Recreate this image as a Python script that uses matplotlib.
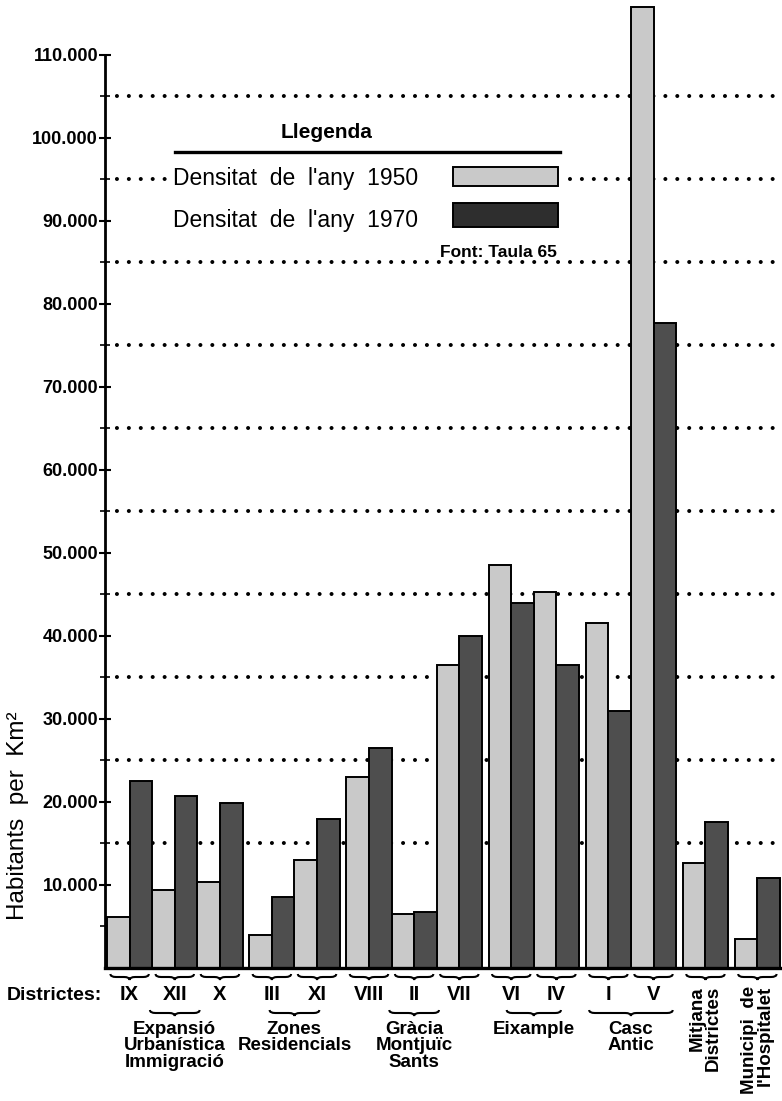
import numpy as np
import matplotlib
matplotlib.use("Agg")
import matplotlib.pyplot as plt
from matplotlib.path import Path
from matplotlib.patches import PathPatch, Rectangle
import matplotlib.transforms as mtransforms

plt.rcParams['font.family'] = ['Liberation Sans', 'DejaVu Sans']

# densitat de poblacio per districte (habitants per km2)
districtes = ['IX', 'XII', 'X', 'III', 'XI', 'VIII', 'II', 'VII',
              'VI', 'IV', 'I', 'V', '', '']
dens_1950 = [6100, 9400, 10400, 4000, 13000, 23000, 6500, 36500,
             48600, 45300, 41600, 115700, 12600, 3500]
dens_1970 = [22500, 20700, 19900, 8600, 18000, 26500, 6700, 40000,
             44000, 36500, 31000, 77700, 17600, 10800]

grups = ['Expansió\nUrbanística\nImmigració', 'Zones\nResidencials',
         'Gràcia\nMontjuïc\nSants', 'Eixample', 'Casc\nAntic',
         'Mitjana\nDistrictes', "Municipi  de\nl'Hospitalet"]
mida_grups = [3, 2, 3, 2, 2, 1, 1]

W, H = 782, 1101
GAP = 0.3

def fx(x):
    return x / W

def fy(y):
    return 1 - y / H

# posicions de les parelles de barres
pos = []
centres_grup = []
x = 0.0
for n in mida_grups:
    ini = x
    for k in range(n):
        pos.append(x)
        x += 2
    centres_grup.append((ini + x) / 2)
    x += GAP
pos = np.array(pos)
xmax = x - GAP

fig = plt.figure(figsize=(W / 100, H / 100), dpi=100)
ax = fig.add_axes([fx(105), 133 / H, (W - 105) / W, 968 / H])
ax.set_xlim(-0.09, xmax + 0.09)
ax.set_ylim(0, 116600)

light = '#c9c9c9'
dark = '#4e4e4e'
ax.bar(pos, dens_1950, 1.0, align='edge', color=light, edgecolor='black',
       linewidth=1.4, zorder=2)
ax.bar(pos + 1, dens_1970, 1.0, align='edge', color=dark, edgecolor='black',
       linewidth=1.4, zorder=2)

# linies de punts
for yv in np.arange(15000, 110000, 10000):
    ax.axhline(yv, color='black', linewidth=2.9, linestyle=(0, (0.01, 2.95)),
               dash_capstyle='round', zorder=1)

for s in ['top', 'right']:
    ax.spines[s].set_visible(False)
ax.spines['left'].set_linewidth(2)
ax.spines['bottom'].set_linewidth(2.4)
ax.spines['left'].set_bounds(0, 110000)

ax.set_yticks(np.arange(10000, 110001, 10000))
ax.set_yticks(np.arange(5000, 110000, 10000), minor=True)
ax.set_yticklabels([f'{v // 1000}.000' for v in range(10000, 110001, 10000)],
                   fontsize=13, fontweight='bold')
ax.tick_params(axis='y', which='major', direction='inout', length=8, width=1.5, pad=1)
ax.tick_params(axis='y', which='minor', direction='inout', length=7, width=1.2)
ax.set_xticks([])

fig.text(fx(18), fy(816), 'Habitants  per  Km²', rotation=90, fontsize=17.5,
         ha='center', va='center')

# llegenda
ax.add_patch(Rectangle((fx(168), fy(245)), fx(394), 85 / H, transform=fig.transFigure,
                       facecolor='white', edgecolor='none', zorder=1.5))
fig.text(fx(327), fy(133), 'Llegenda', fontsize=15, fontweight='bold',
         ha='center', va='center')
fig.add_artist(plt.Line2D([fx(175), fx(560)], [fy(152), fy(152)], color='black',
                          linewidth=2.4))
fig.text(fx(173), fy(185), "Densitat  de  l'any  1950", fontsize=16.5, ha='left',
         va='baseline')
fig.text(fx(173), fy(227), "Densitat  de  l'any  1970", fontsize=16.5, ha='left',
         va='baseline')
fig.add_artist(Rectangle((fx(453), fy(186)), fx(105), 19 / H, transform=fig.transFigure,
                         facecolor=light, edgecolor='black', linewidth=1.4))
fig.add_artist(Rectangle((fx(453), fy(227)), fx(105), 24 / H, transform=fig.transFigure,
                         facecolor='#2e2e2e', edgecolor='black', linewidth=1.4))
fig.text(fx(557), fy(257), 'Font: Taula 65', fontsize=12.5, fontweight='bold',
         ha='right', va='baseline')

# claus sota l'eix
trans = mtransforms.blended_transform_factory(ax.transData, fig.transFigure)

def clau(x0, x1, ypx, h=6, q=0.25):
    xm = (x0 + x1) / 2
    yt, ym, yb = fy(ypx - h / 2), fy(ypx), fy(ypx + h / 2)
    verts = [(x0, yt), (x0, ym), (x0 + q, ym), (xm - q, ym), (xm, ym), (xm, yb),
             (xm, ym), (xm + q, ym), (x1 - q, ym), (x1, ym), (x1, yt)]
    codes = [Path.MOVETO, Path.CURVE3, Path.CURVE3, Path.LINETO, Path.CURVE3,
             Path.CURVE3, Path.CURVE3, Path.CURVE3, Path.LINETO, Path.CURVE3,
             Path.CURVE3]
    fig.add_artist(PathPatch(Path(verts, codes), transform=trans, facecolor='none',
                             edgecolor='black', linewidth=1.5))

for p, nom in zip(pos, districtes):
    clau(p + 0.15, p + 1.85, 977)
    if nom:
        fig.text(p + 1, fy(995), nom, transform=trans, fontsize=14.5,
                 fontweight='bold', ha='center', va='center')

fig.text(fx(7), fy(995), 'Districtes:', fontsize=14, fontweight='bold',
         ha='left', va='center')

amples = [1.1, 1.1, 1.1, 1.2, 1.85]
for c, nom, a in zip(centres_grup[:5], grups[:5], amples):
    clau(c - a, c + a, 1013)
    fig.text(c, fy(1021), nom, transform=trans, fontsize=13.5,
             fontweight='bold', ha='center', va='top', linespacing=0.95)
for c, nom in zip(centres_grup[5:], grups[5:]):
    fig.text(c, fy(986), nom, transform=trans, fontsize=13.5,
             fontweight='bold', ha='center', va='top', rotation=90,
             multialignment='right', linespacing=0.95)

fig.savefig('out.png', dpi=100)
